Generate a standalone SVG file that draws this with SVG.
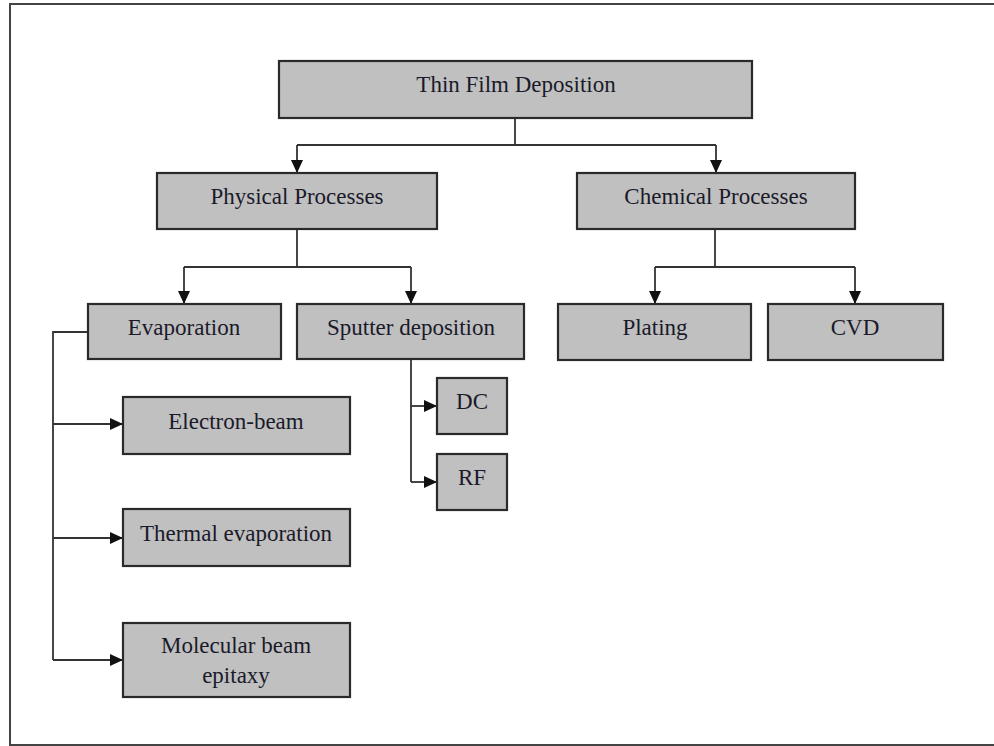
<svg xmlns="http://www.w3.org/2000/svg" width="994" height="746" viewBox="0 0 994 746">
  <style>
    .box { fill: #c0c0c0; stroke: #2a2a2a; stroke-width: 2.2; }
    .lbl { font-family: "Liberation Serif", "Times New Roman", serif; font-size: 23px; fill: #1a1a2a; text-anchor: middle; }
    .wire { fill: none; stroke: #333; stroke-width: 1.8; }
  </style>
  <defs>
    <marker id="arrow" markerWidth="13" markerHeight="12" refX="12" refY="6" orient="auto" markerUnits="userSpaceOnUse">
      <path d="M0,0 L13,6 L0,12 Z" fill="#111"/>
    </marker>
  </defs>
  <rect x="0" y="0" width="994" height="746" fill="#fff"/>
  <!-- outer frame -->
  <rect x="10" y="4" width="990" height="741" fill="none" stroke="#444" stroke-width="2"/>

  <g id="connectors">
    <path class="wire" d="M515,118 V145 M297,145 H716" />
    <path class="wire" d="M297,145 V172" marker-end="url(#arrow)"/>
    <path class="wire" d="M716,145 V172" marker-end="url(#arrow)"/>
    <path class="wire" d="M297,229 V267 M184,267 H411" />
    <path class="wire" d="M184,267 V303" marker-end="url(#arrow)"/>
    <path class="wire" d="M411,267 V303" marker-end="url(#arrow)"/>
    <path class="wire" d="M715,229 V267 M655,267 H855" />
    <path class="wire" d="M655,267 V303" marker-end="url(#arrow)"/>
    <path class="wire" d="M855,267 V303" marker-end="url(#arrow)"/>
    <path class="wire" d="M88,332 H53 V660" />
    <path class="wire" d="M53,424 H122" marker-end="url(#arrow)"/>
    <path class="wire" d="M53,538 H122" marker-end="url(#arrow)"/>
    <path class="wire" d="M53,660 H122" marker-end="url(#arrow)"/>
    <path class="wire" d="M411,359 V482" />
    <path class="wire" d="M411,406 H436" marker-end="url(#arrow)"/>
    <path class="wire" d="M411,482 H436" marker-end="url(#arrow)"/>
  </g>

  <g id="thin-film">
    <rect class="box" x="279" y="61" width="473" height="57"/>
    <text class="lbl" x="516" y="92">Thin Film Deposition</text>
  </g>
  <g id="physical">
    <rect class="box" x="157" y="173" width="280" height="56"/>
    <text class="lbl" x="297" y="204">Physical Processes</text>
  </g>
  <g id="chemical">
    <rect class="box" x="577" y="173" width="278" height="56"/>
    <text class="lbl" x="716" y="204">Chemical Processes</text>
  </g>
  <g id="evaporation">
    <rect class="box" x="88" y="304" width="193" height="55"/>
    <text class="lbl" x="184" y="335">Evaporation</text>
  </g>
  <g id="sputter">
    <rect class="box" x="297" y="304" width="227" height="55"/>
    <text class="lbl" x="411" y="335">Sputter deposition</text>
  </g>
  <g id="plating">
    <rect class="box" x="558" y="304" width="193" height="56"/>
    <text class="lbl" x="655" y="335">Plating</text>
  </g>
  <g id="cvd">
    <rect class="box" x="768" y="304" width="175" height="56"/>
    <text class="lbl" x="855" y="335">CVD</text>
  </g>
  <g id="dc">
    <rect class="box" x="437" y="378" width="70" height="56"/>
    <text class="lbl" x="472" y="409">DC</text>
  </g>
  <g id="rf">
    <rect class="box" x="437" y="454" width="70" height="56"/>
    <text class="lbl" x="472" y="485">RF</text>
  </g>
  <g id="electron-beam">
    <rect class="box" x="123" y="397" width="227" height="57"/>
    <text class="lbl" x="236" y="429">Electron-beam</text>
  </g>
  <g id="thermal">
    <rect class="box" x="123" y="509" width="227" height="57"/>
    <text class="lbl" x="236" y="541">Thermal evaporation</text>
  </g>
  <g id="mbe">
    <rect class="box" x="123" y="623" width="227" height="74"/>
    <text class="lbl" x="236" y="653">Molecular beam</text>
    <text class="lbl" x="236" y="683">epitaxy</text>
  </g>
</svg>
